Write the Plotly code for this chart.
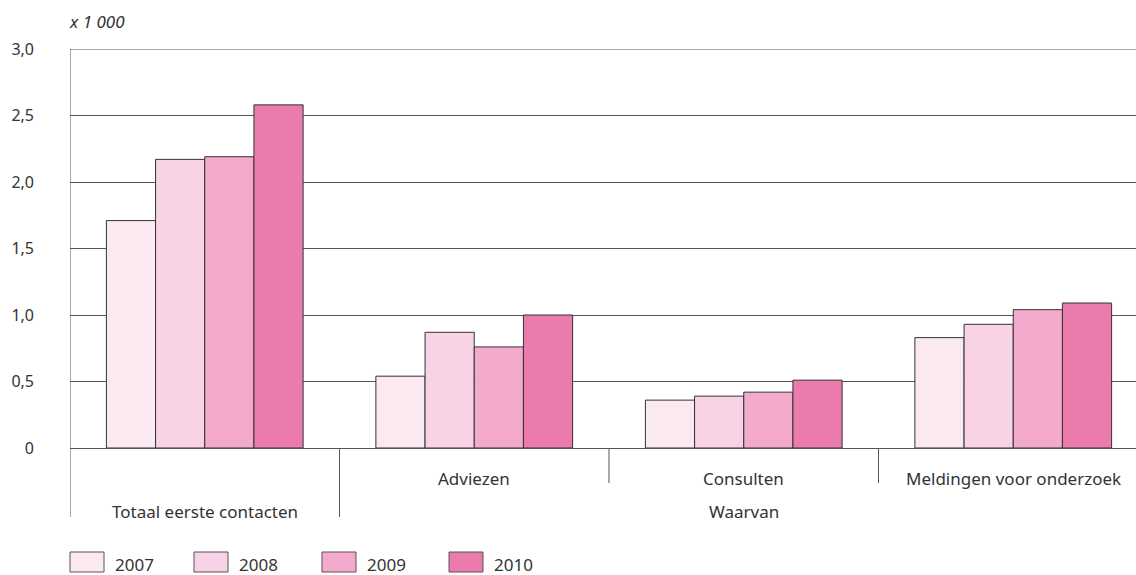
import plotly.graph_objects as go

# Categories (x axis) and yearly series, in thousands
categories = ["Totaal eerste contacten", "Adviezen", "Consulten", "Meldingen voor onderzoek"]
years = ["2007", "2008", "2009", "2010"]
values_2007 = [1.71, 0.54, 0.36, 0.83]
values_2008 = [2.17, 0.87, 0.39, 0.93]
values_2009 = [2.19, 0.76, 0.42, 1.04]
values_2010 = [2.58, 1.00, 0.51, 1.09]
series = [values_2007, values_2008, values_2009, values_2010]
colors = ["#FBE9F2", "#F8D3E5", "#F3AACC", "#EC7BAD"]

y_tick_vals = [0, 0.5, 1.0, 1.5, 2.0, 2.5, 3.0]
y_tick_text = ["0", "0,5", "1,0", "1,5", "2,0", "2,5", "3,0"]

FONT = "Noto Sans"
FS = 17
TXT = "#333333"
LINE = "#555555"

W, H = 1136, 575
ML, MR, MT, MB = 70, 0, 49, 127
plot_h = H - MT - MB


def py(px):
    """Pixel row -> paper y coordinate."""
    return (H - MB - px) / plot_h


def pxx(px):
    """Pixel column -> paper x coordinate."""
    return (px - ML) / (W - ML - MR)


fig = go.Figure()
for yr, vals, col in zip(years, series, colors):
    fig.add_trace(go.Bar(
        x=list(range(len(categories))), y=vals, name=yr,
        marker=dict(color=col, line=dict(color="#333333", width=1)),
        showlegend=False,
    ))

shapes = []
# top border line at 3,0
shapes.append(dict(type="line", xref="paper", yref="y", x0=0, x1=1, y0=3.0, y1=3.0,
                   line=dict(color=LINE, width=1), layer="below"))
# vertical separators in the category band
shapes.append(dict(type="line", xref="x", yref="paper", x0=-0.5, x1=-0.5,
                   y0=1, y1=py(517), line=dict(color=LINE, width=1)))
shapes.append(dict(type="line", xref="x", yref="paper", x0=0.5, x1=0.5,
                   y0=0, y1=py(517), line=dict(color=LINE, width=1)))
for xs in (1.5, 2.5):
    shapes.append(dict(type="line", xref="x", yref="paper", x0=xs, x1=xs,
                       y0=0, y1=py(483), line=dict(color=LINE, width=1)))

label_font = dict(size=FS, color=TXT, family=FONT)
annotations = []
# category labels
annotations.append(dict(x=0, y=py(511), xref="x", yref="paper", text=categories[0],
                        xanchor="center", yanchor="middle", showarrow=False, font=label_font))
for i in (1, 2, 3):
    annotations.append(dict(x=i, y=py(478), xref="x", yref="paper", text=categories[i],
                            xanchor="center", yanchor="middle", showarrow=False, font=label_font))
annotations.append(dict(x=2, y=py(511), xref="x", yref="paper", text="Waarvan",
                        xanchor="center", yanchor="middle", showarrow=False, font=label_font))
# unit label
annotations.append(dict(x=pxx(67), y=py(22), xref="paper", yref="paper", text="<i>x 1 000</i>",
                        xanchor="left", yanchor="middle", showarrow=False, font=label_font))

# legend drawn as boxes and labels
legend_x = [70, 194, 322, 449]
for k, (yr, col) in enumerate(zip(years, colors)):
    x0 = legend_x[k]
    shapes.append(dict(type="rect", xref="paper", yref="paper",
                       x0=pxx(x0), x1=pxx(x0 + 34), y0=py(552), y1=py(572),
                       fillcolor=col, line=dict(color="#555555", width=1)))
    annotations.append(dict(x=pxx(x0 + 43), y=py(564), xref="paper", yref="paper",
                            text=yr, xanchor="left", yanchor="middle", showarrow=False,
                            font=label_font))

fig.update_layout(
    width=W, height=H,
    margin=dict(l=ML, r=MR, t=MT, b=MB),
    paper_bgcolor="white", plot_bgcolor="white",
    barmode="group", bargap=0.27, bargroupgap=0,
    shapes=shapes, annotations=annotations,
    font=dict(family=FONT, size=FS, color=TXT),
    xaxis=dict(range=[-0.5, -0.5 + (W - ML - MR) / 269.5], showticklabels=False,
               showgrid=False, zeroline=False, ticks="", fixedrange=True),
    yaxis=dict(range=[0, 3.0], tickvals=y_tick_vals, ticktext=y_tick_text,
               showgrid=True, gridcolor=LINE, gridwidth=1, zeroline=True,
               zerolinecolor=LINE, zerolinewidth=1, ticks="", ticklabelstandoff=35,
               tickfont=dict(size=16, color=TXT, family=FONT), showline=False),
)

fig.write_html("out.html")
